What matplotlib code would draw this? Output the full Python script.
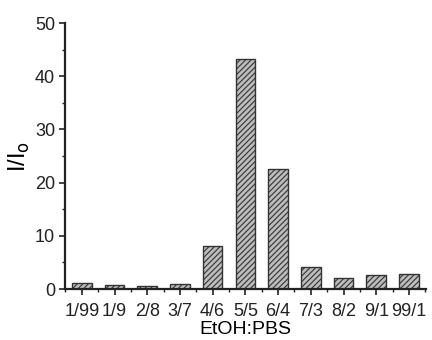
import numpy as np
import matplotlib
matplotlib.use("Agg")
import matplotlib.pyplot as plt
from matplotlib.ticker import MultipleLocator

# ── Data ──────────────────────────────────────────────────────────────────
ratios = ["1/99", "1/9", "2/8", "3/7", "4/6", "5/5", "6/4", "7/3", "8/2", "9/1", "99/1"]
intensity = [1.2, 0.8, 0.6, 1.0, 8.0, 43.3, 22.6, 4.2, 2.0, 2.6, 2.8]
# ──────────────────────────────────────────────────────────────────────────

plt.rcParams["font.family"] = ["Liberation Sans Narrow", "Liberation Sans", "DejaVu Sans"]
plt.rcParams["mathtext.fontset"] = "custom"
plt.rcParams["mathtext.rm"] = "Liberation Sans Narrow"
plt.rcParams["mathtext.it"] = "Liberation Sans Narrow"
plt.rcParams["hatch.linewidth"] = 0.8
plt.rcParams["hatch.color"] = "#333333"

fig = plt.figure(figsize=(4.32, 3.40), dpi=100)
ax = fig.add_axes([0.150, 0.150, 0.836, 0.782])

x = np.arange(len(ratios))
ax.bar(x, intensity, width=0.6, color="#bcbcbc", edgecolor="#333333",
       linewidth=1.0, hatch="//////")

ax.set_xlim(-0.52, len(ratios) - 0.48)
ax.set_ylim(0, 50)
ax.set_xticks(x)
ax.set_xticklabels(ratios)
ax.xaxis.set_minor_locator(MultipleLocator(0.5))
ax.yaxis.set_major_locator(MultipleLocator(10))
ax.yaxis.set_minor_locator(MultipleLocator(5))

for side in ("top", "right"):
    ax.spines[side].set_visible(False)
for side in ("left", "bottom"):
    ax.spines[side].set_linewidth(1.6)
    ax.spines[side].set_color("#222222")

ax.tick_params(axis="both", which="major", direction="out", length=4,
               width=1.2, labelsize=13, colors="#222222")
ax.tick_params(axis="x", which="major", pad=6)
ax.tick_params(axis="y", which="major", pad=3)
ax.tick_params(axis="both", which="minor", direction="out", length=2.5, width=1.0,
               colors="#222222")

ax.set_xlabel("EtOH:PBS", fontsize=14, labelpad=1)
ax.set_ylabel(r"I/I$_\mathrm{o}$", fontsize=17, labelpad=2)

fig.savefig("out.png", dpi=100)
